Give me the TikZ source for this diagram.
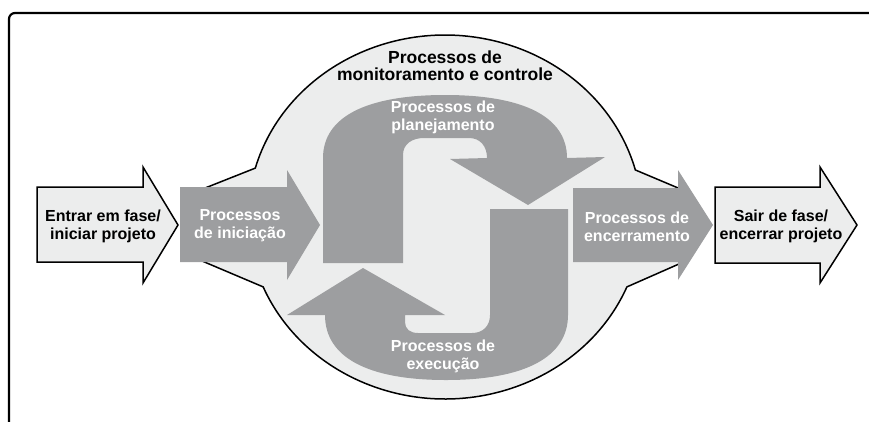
\documentclass[tikz,border=0pt]{standalone}
\usepackage{fontspec}
\setmainfont{Liberation Sans}
\begin{document}
\begin{tikzpicture}[x=1pt,y=1pt]
\definecolor{arrgray}{RGB}{157,158,160}
\definecolor{lightfill}{RGB}{236,237,237}
\tikzset{
  grayarrow/.style={fill=arrgray, draw=none},
  outlinearrow/.style={fill=lightfill, draw=black, line width=1.5pt, line join=miter},
  bubble/.style={fill=lightfill, draw=black, line width=1.5pt, line join=miter},
  whitelabel/.style={text=white, font=\fontsize{16}{18}\selectfont\bfseries, align=center, inner sep=0pt},
  blacklabel/.style={text=black, font=\fontsize{16}{18}\selectfont\bfseries, align=center, inner sep=0pt},
  toplabel/.style={text=black, font=\fontsize{17.5}{17}\selectfont\bfseries, align=center, inner sep=0pt},
}
\useasboundingbox (0,0) rectangle (869,-421);
\clip (0,0) rectangle (869,-421);
% frame
\draw[line width=2.2pt, rounded corners=6pt] (9,-13) rectangle (900,-450);
% monitoring bubble
\draw[bubble] (255.3,-168.1) arc[start angle=164.4, end angle=15, x radius=197pt, y radius=182pt]
  -- (690,-193) -- (688,-260) -- (626.9,-286.9)
  arc[start angle=337.4, end angle=202.6, x radius=197pt, y radius=182pt]
  -- (195,-258) -- (195,-192) -- cycle;
% planning U-arrow
\fill[grayarrow] (323,-263) -- (323,-158)
  .. controls (323,-117) and (366,-95) .. (445,-95)
  .. controls (524,-95) and (567,-117) .. (567,-158)
  -- (605,-157) -- (528,-205) -- (450,-159) -- (487,-158)
  .. controls (487,-146) and (480,-138) .. (469,-138) -- (424,-138)
  .. controls (412,-138) and (403,-144) .. (403,-155) -- (403,-263) -- cycle;
% execution U-arrow
\fill[grayarrow] (490,-209) -- (568,-209) -- (568,-315)
  .. controls (568,-357) and (525,-380) .. (446,-380)
  .. controls (367,-380) and (325,-357) .. (325,-315)
  -- (287,-315) -- (363,-268) -- (445,-315) -- (405,-315) -- (405,-322)
  .. controls (405,-329) and (410,-333) .. (418,-333) -- (472,-333)
  .. controls (483,-333) and (490,-326) .. (490,-315) -- cycle;
% initiation arrow
\fill[grayarrow] (180,-187) -- (287,-187) -- (287,-170) -- (320,-225) -- (287,-280) -- (287,-262) -- (180,-262) -- cycle;
% closing arrow
\fill[grayarrow] (573,-188) -- (678,-188) -- (678,-170) -- (713,-225) -- (678,-280) -- (678,-262) -- (573,-262) -- cycle;
% enter / exit arrows
\draw[outlinearrow] (37,-187) -- (143,-187) -- (143,-167) -- (178,-225) -- (143,-283) -- (143,-262) -- (37,-262) -- cycle;
\draw[outlinearrow] (715,-187) -- (820,-187) -- (820,-167) -- (857,-225) -- (820,-283) -- (820,-263) -- (715,-263) -- cycle;
% labels
\node[toplabel] (monitor) at (445,-66) {Processos de\\monitoramento e controle};
\node[whitelabel] (plan) at (443,-117) {Processos de\\planejamento};
\node[whitelabel] (exec) at (443,-356) {Processos de\\execução};
\node[blacklabel] (enter) at (103,-226) {Entrar em fase/\\iniciar projeto};
\node[whitelabel] (init) at (240,-226) {Processos\\de iniciação};
\node[whitelabel] (close) at (637,-227) {Processos de\\encerramento};
\node[blacklabel] (exit) at (781,-226) {Sair de fase/\\encerrar projeto};
\end{tikzpicture}
\end{document}
